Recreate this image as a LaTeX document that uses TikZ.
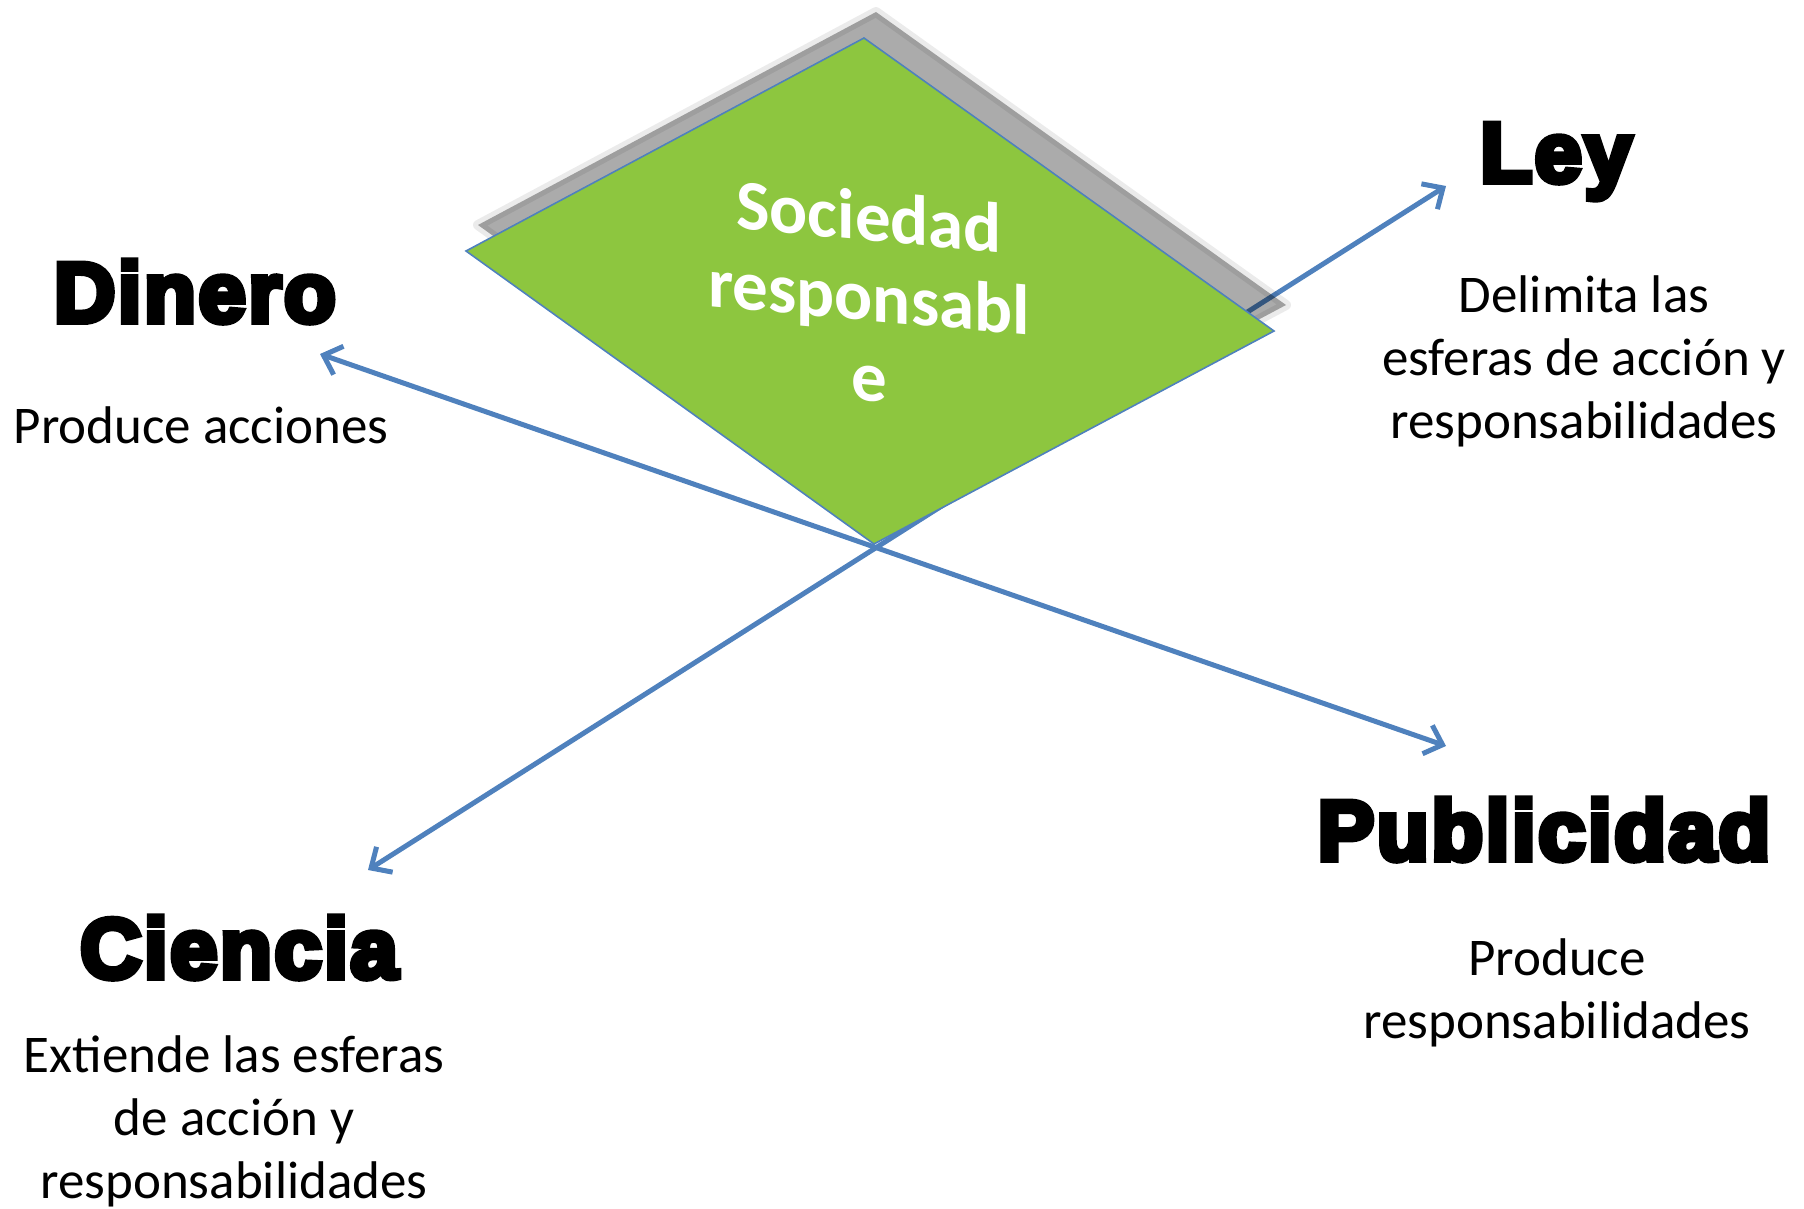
\documentclass[tikz,border=0pt]{standalone}
\usepackage{fontspec}
\setmainfont{Carlito}
\newfontfamily\heavyfont{Liberation Sans}[FakeBold=7,LetterSpace=3]
\usepackage{xcolor}
\usetikzlibrary{positioning,arrows.meta}
\definecolor{leafgreen}{RGB}{141,198,63}
\definecolor{officeblue}{RGB}{79,129,189}

\begin{document}
\begin{tikzpicture}[x=0.5pt, y=-0.5pt,
    head/.style = {font=\heavyfont\bfseries\fontsize{42.5}{50}\selectfont, inner sep=0pt, anchor=base},
    desc/.style = {font=\fontsize{26.5}{31.5}\selectfont, align=center, inner sep=0pt, anchor=base},
    link/.style = {officeblue, line width=2.5pt, {Straight Barb[length=8pt,width=15pt]}-{Straight Barb[length=8pt,width=15pt]}}]
    \useasboundingbox (0,0) rectangle (1804,1209);

    % corners of the card
    \coordinate (top) at (864,38);
    \coordinate (left) at (466,251);
    \coordinate (right) at (1274,331);
    \coordinate (bottom) at (874,544);

    % arrow ends
    \coordinate (dintip) at (320,354);
    \coordinate (pubtip) at (1446,746);
    \coordinate (leytip) at (1446,186);
    \coordinate (cientip) at (368,870);

    \draw[link] (dintip) -- (pubtip);
    \draw[link] (leytip) -- (cientip);

    %shadow
    \draw[black, opacity=0.08, line width=5pt, line join=round] ([shift={(12,-26)}]top) -- ([shift={(12,-26)}]right) -- ([shift={(12,-26)}]bottom) -- ([shift={(12,-26)}]left) -- cycle;
    \fill[black, opacity=0.33] ([shift={(12,-26)}]top) -- ([shift={(12,-26)}]right) -- ([shift={(12,-26)}]bottom) -- ([shift={(12,-26)}]left) -- cycle;
    \fill[leafgreen, draw=officeblue, line width=0.8pt] (top) -- (right) -- (bottom) -- (left) -- cycle;
    \node[font=\bfseries\fontsize{35.5}{40}\selectfont, text=white, align=center, yslant=-0.09, transform shape] (soc) at (869,296) {Sociedad\\responsabl\\e};

    % last line sits on the given point
    \node[head] (dinero) at (195,322) {Dinero};
    \node[desc] (dintxt) at (201,443) {Produce acciones};
    \node[head] (ley) at (1556,182) {Ley};
    \node[desc] (leytxt) at (1584,438) {Delimita las\\esferas de acción y\\responsabilidades};
    \node[head] (publi) at (1544,860) {Publicidad};
    \node[desc] (publitxt) at (1557,1038) {Produce\\responsabilidades};
    \node[head] (ciencia) at (239,978) {Ciencia};
    \node[desc] (cientxt) at (234,1198) {Extiende las esferas\\de acción y\\responsabilidades};
\end{tikzpicture}
\end{document}
